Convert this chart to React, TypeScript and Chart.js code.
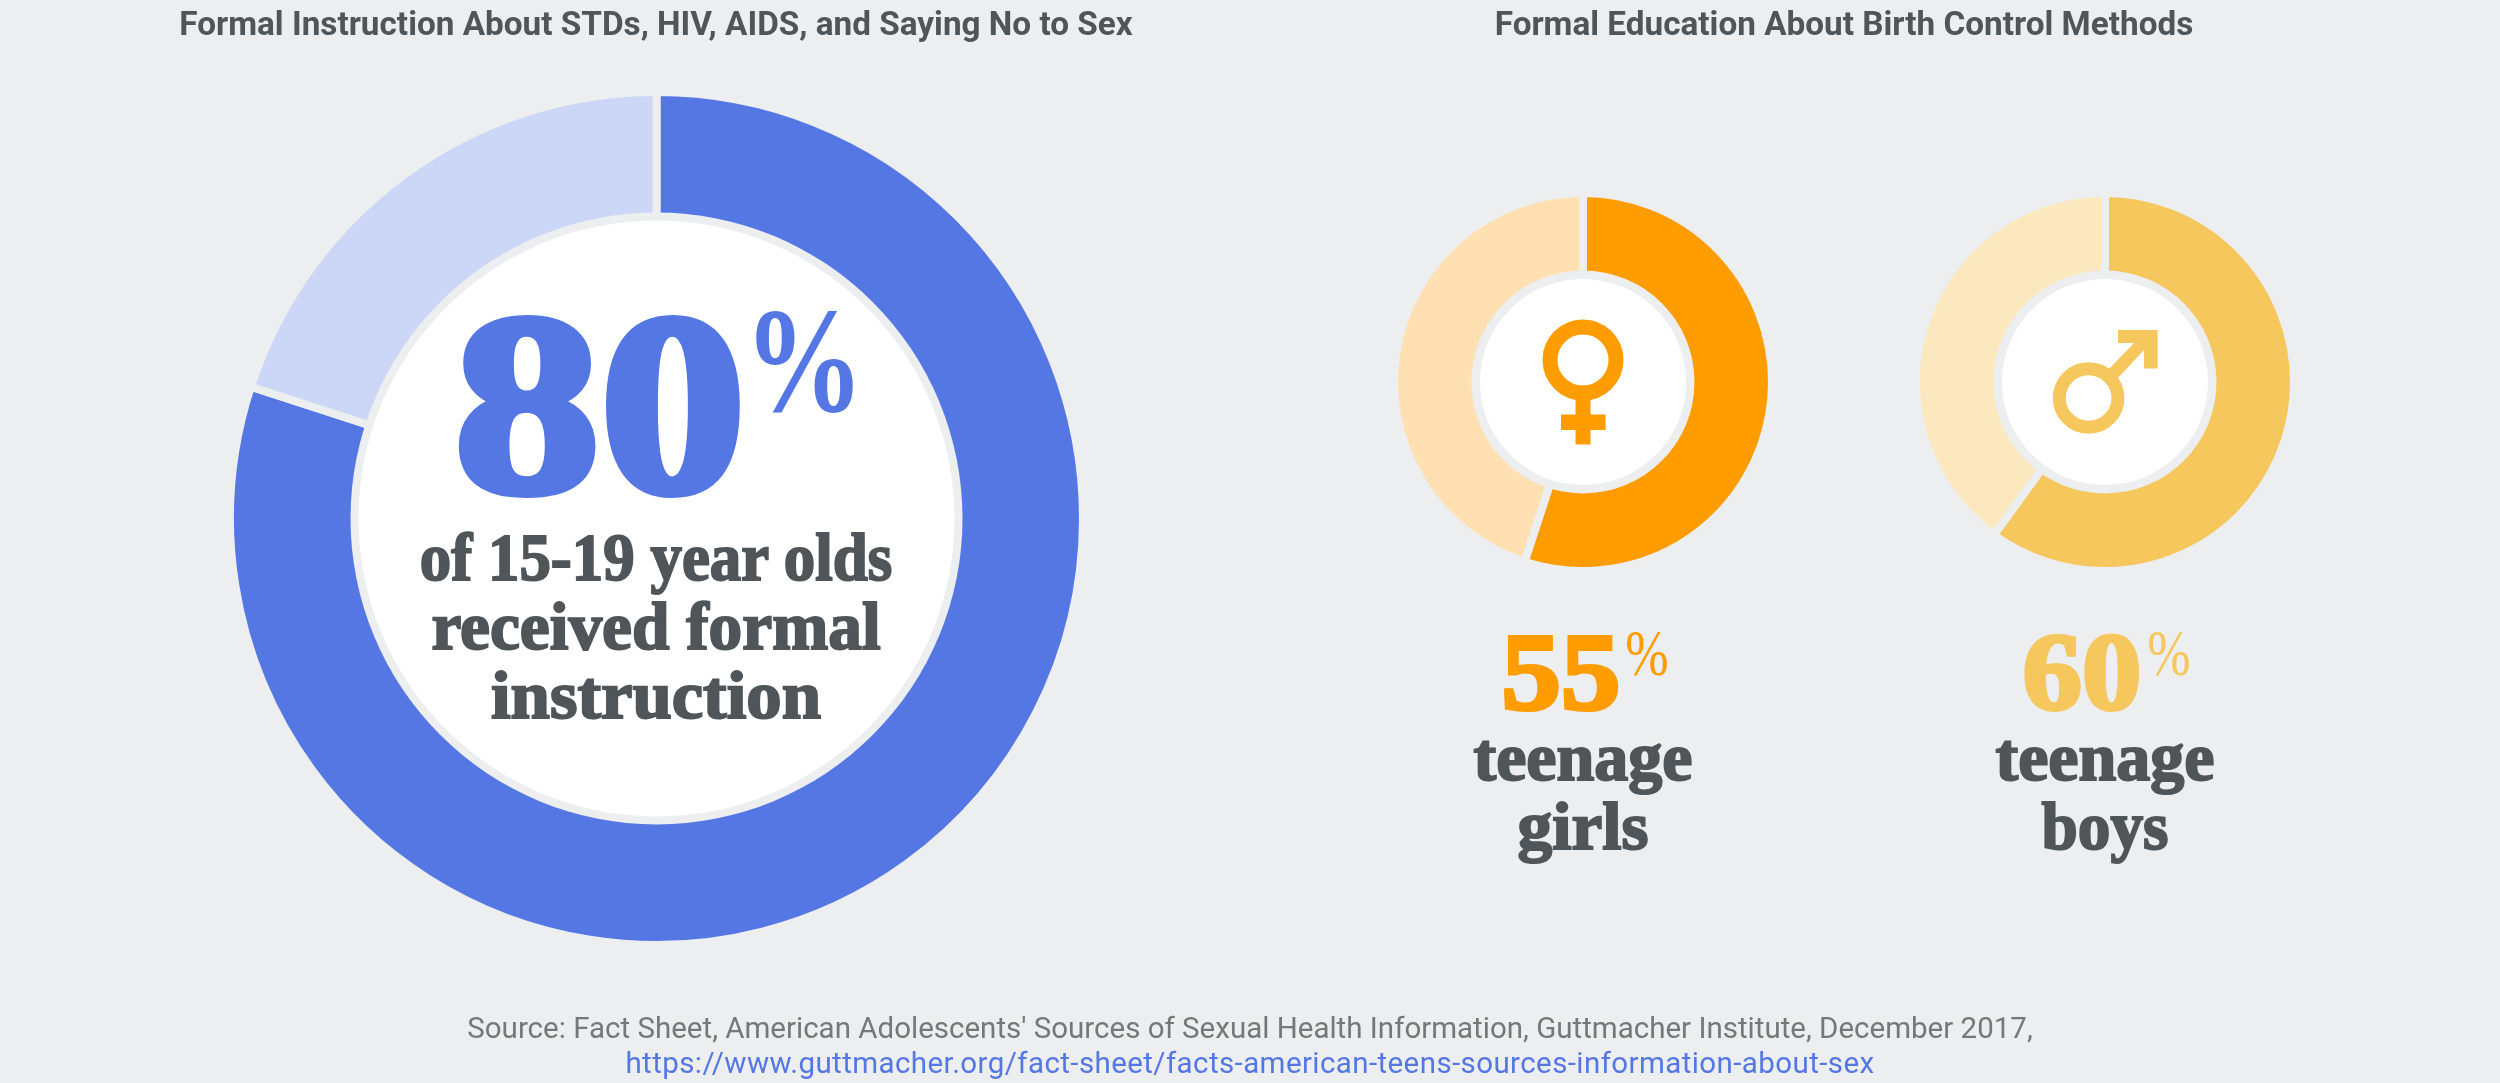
import React, { useEffect, useRef } from "react";
import { Chart, registerables } from "chart.js";

Chart.register(...registerables);

const BG = "#ECEEF0";
const INK = "#4F5558";
const SERIF = "'Liberation Serif',serif";

const sliceLabels = ["Yes", "No"];
const instructionValues = [80, 20];
const girlsValues = [55, 45];
const boysValues = [60, 40];
const instructionColors = ["#5577E4", "#CCD7F7"];
const girlsColors = ["#FF9C00", "#FEE0B2"];
const boysColors = ["#F5C75D", "#FCE8BE"];

const titles = [
  "Formal Instruction About STDs, HIV, AIDS, and Saying No to Sex",
  "Formal Education About Birth Control Methods",
];
const instructionLines = ["of 15-19 year olds", "received formal", "instruction"];
const girlsLines = ["teenage", "girls"];
const boysLines = ["teenage", "boys"];
const sourceLine = "Source: Fact Sheet, American Adolescents' Sources of Sexual Health Information, Guttmacher Institute, December 2017,";
const sourceUrl = "https://www.guttmacher.org/fact-sheet/facts-american-teens-sources-information-about-sex";

function Donut(props: { values: number[]; colors: string[]; cx: number; cy: number; outer: number; inner: number; disc: number }) {
  const ref = useRef<HTMLCanvasElement>(null);
  const { values, colors, cx, cy, outer, inner, disc } = props;
  const border = 8;
  const size = Math.ceil(outer * 2 + 24);
  useEffect(() => {
    const chart = new Chart(ref.current!, {
      type: "doughnut",
      data: { labels: sliceLabels, datasets: [{ data: values, backgroundColor: colors, borderColor: BG, borderWidth: border, hoverOffset: 0 }] },
      options: {
        animation: false,
        responsive: false,
        radius: outer + border / 2,
        cutout: inner - border,
        plugins: { legend: { display: false }, tooltip: { enabled: false } },
      } as any,
      plugins: [
        {
          id: "disc",
          afterDatasetsDraw(c: any) {
            const arc = c.getDatasetMeta(0).data[0];
            const ctx = c.ctx;
            ctx.save();
            ctx.fillStyle = BG;
            ctx.beginPath();
            ctx.arc(arc.x, arc.y, inner, 0, Math.PI * 2);
            ctx.fill();
            ctx.fillStyle = "#FFFFFF";
            ctx.beginPath();
            ctx.arc(arc.x, arc.y, disc, 0, Math.PI * 2);
            ctx.fill();
            ctx.restore();
          },
        },
      ],
    });
    return () => chart.destroy();
  }, []);
  return (
    <canvas
      ref={ref}
      width={size}
      height={size}
      style={{ position: "absolute", left: cx - size / 2, top: cy - size / 2, width: size, height: size }}
    />
  );
}

function T(props: {
  text: string; x: number; base: number; size: number; color: string; font: string; weight?: number; sx?: number; stroke?: number; spacing?: number;
}) {
  const { text, x, base, size, color, font, weight = 700, sx = 1, stroke = 0, spacing = 0 } = props;
  const h = 300;
  const w = 2000;
  return (
    <div
      style={{
        position: "absolute",
        left: x - w / 2,
        top: base - h,
        width: w,
        height: h,
        lineHeight: 0,
        textAlign: "center",
        whiteSpace: "pre",
        fontFamily: font,
        fontWeight: weight,
        fontSize: size,
        color,
        letterSpacing: spacing,
        WebkitTextStroke: stroke ? `${stroke}px ${color}` : undefined,
        transform: `scaleX(${sx})`,
        transformOrigin: "50% 50%",
      }}
    >
      <span style={{ display: "inline-block", height: h, width: 0 }} />
      {text}
    </div>
  );
}

const instructionStretch = [0.925, 0.99, 1.04];
const girlsStretch = [1.0, 1.02];
const boysStretch = [1.0, 0.96];

export default function App() {
  return (
    <div style={{ position: "absolute", left: 0, top: 0, width: 2500, height: 1083, background: BG, overflow: "hidden" }}>
      <Donut values={instructionValues} colors={instructionColors} cx={656} cy={518} outer={422.5} inner={306} disc={298} />
      <Donut values={girlsValues} colors={girlsColors} cx={1583} cy={382} outer={185} inner={111.5} disc={103} />
      <Donut values={boysValues} colors={boysColors} cx={2105} cy={382} outer={185} inner={111.5} disc={103} />

      <svg width={2500} height={1083} style={{ position: "absolute", left: 0, top: 0 }}>
        <circle cx={1583} cy={360} r={33} fill="none" stroke={girlsColors[0]} strokeWidth={15} />
        <path d="M1575.5 395H1590.5V414.6H1605.6V430H1590.5V444.5H1575.5V430H1561V414.6H1575.5Z" fill={girlsColors[0]} />
        <circle cx={2088.6} cy={398} r={29.3} fill="none" stroke={boysColors[0]} strokeWidth={13} />
        <path d="M2118 330H2157.6V368.6H2144V350L2118 378L2109 369L2134 343H2118Z" fill={boysColors[0]} />
      </svg>

      <T text={titles[0]} x={656} base={35} size={33.3} color={INK} font="Roboto" weight={700} />
      <T text={titles[1]} x={1844} base={35} size={33.3} color={INK} font="Roboto" weight={700} />

      <T text={String(instructionValues[0])} x={600} base={491} size={258} color={instructionColors[0]} font={SERIF} stroke={9} sx={1.13} />
      <T text="%" x={804} base={411} size={150} color={instructionColors[0]} font={SERIF} sx={0.8} />
      {instructionLines.map((l, i) => (
        <T key={l} text={l} x={656} base={580 + i * 69} size={68} color={INK} font={SERIF} stroke={2} sx={instructionStretch[i]} />
      ))}

      <T text={String(girlsValues[0])} x={1561} base={709} size={110} color={girlsColors[0]} font={SERIF} stroke={4} sx={1.08} />
      <T text="%" x={1647} base={675} size={65} color={girlsColors[0]} font={SERIF} weight={400} sx={0.8} />
      {girlsLines.map((l, i) => (
        <T key={l} text={l} x={1583} base={780 + i * 69} size={68} color={INK} font={SERIF} stroke={2} sx={girlsStretch[i]} />
      ))}

      <T text={String(boysValues[0])} x={2082} base={709} size={110} color={boysColors[0]} font={SERIF} stroke={4} sx={1.08} />
      <T text="%" x={2169} base={675} size={65} color={boysColors[0]} font={SERIF} weight={400} sx={0.8} />
      {boysLines.map((l, i) => (
        <T key={l} text={l} x={2105} base={780 + i * 69} size={68} color={INK} font={SERIF} stroke={2} sx={boysStretch[i]} />
      ))}

      <T text={sourceLine} x={1250} base={1038} size={29.5} color="#757878" font="Roboto" weight={400} />
      <T text={sourceUrl} x={1250} base={1073} size={29.5} color="#5577E4" font="Roboto" weight={400} spacing={0.41} />
    </div>
  );
}
